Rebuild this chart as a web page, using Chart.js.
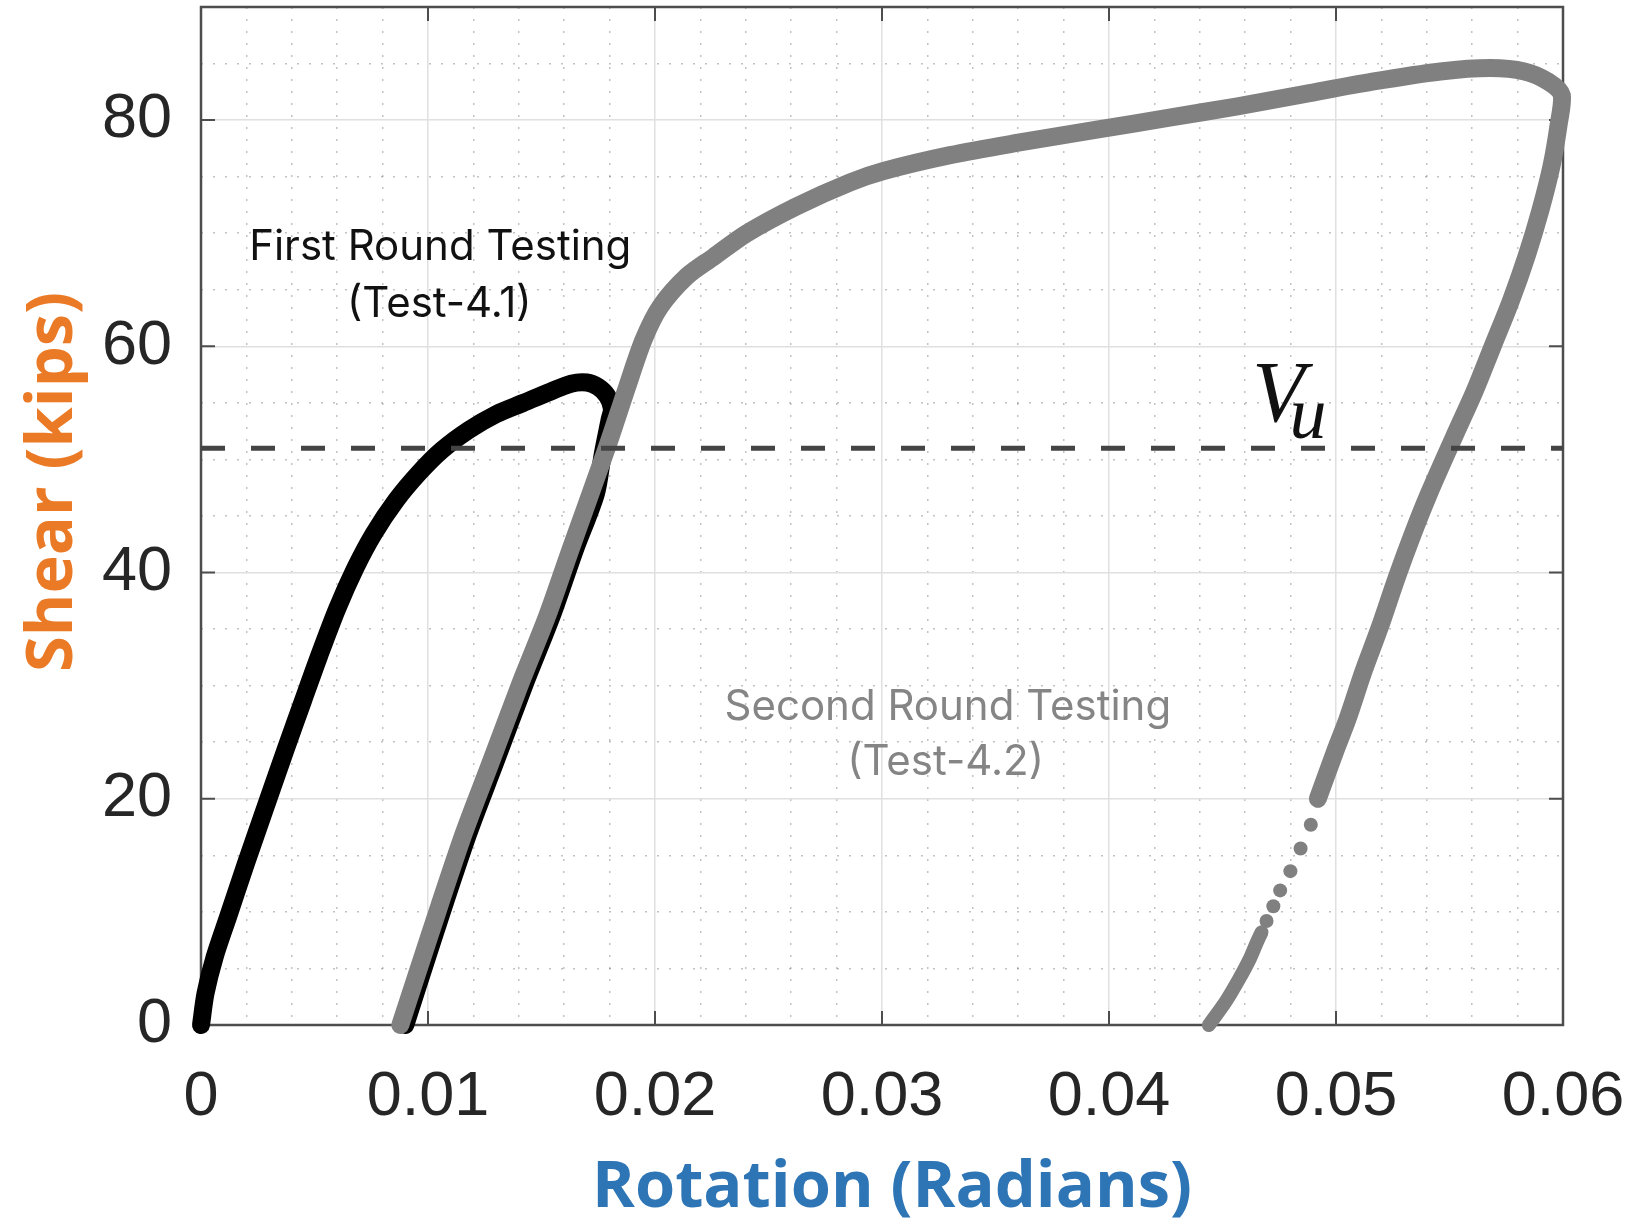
<!DOCTYPE html>
<html>
<head>
<meta charset="utf-8">
<title>Shear vs Rotation</title>
<script src="https://cdn.jsdelivr.net/npm/chart.js@4.4.1/dist/chart.umd.min.js"></script>
<style>
  html, body { margin: 0; padding: 0; background: #fff; }
  #wrap { width: 1632px; height: 1220px; }
</style>
</head>
<body>
<div id="wrap"><canvas id="shearChart" width="1632" height="1220"></canvas></div>
<script>
// ── Shear vs rotation, two test rounds ──

// axes
const xTickValues = [0, 0.01, 0.02, 0.03, 0.04, 0.05, 0.06];
const xTickLabels = ['0', '0.01', '0.02', '0.03', '0.04', '0.05', '0.06'];
const yTickValues = [0, 20, 40, 60, 80];
const yTickLabels = ['0', '20', '40', '60', '80'];

// V_u level (kips)
const vuShear = 51;

// First round (Test-4.1): loading then unloading
const firstRot = [0, 0.0002, 0.0006, 0.0012, 0.0020, 0.0029, 0.0037, 0.0045, 0.0052, 0.0060,
  0.0068, 0.0076, 0.0086, 0.0096, 0.0106, 0.0118, 0.0130, 0.0142, 0.0154, 0.0163,
  0.0170, 0.0175, 0.0179, 0.0181, 0.0180, 0.0177, 0.0174, 0.01647, 0.01544, 0.01427,
  0.01294, 0.01177, 0.0103, 0.0090];
const firstShear = [0, 2.8, 6.0, 9.6, 14.4, 19.6, 24.2, 28.7, 32.6, 36.8,
  40.4, 43.4, 46.4, 48.8, 50.8, 52.6, 54.0, 55.0, 56.0, 56.7,
  56.8, 56.4, 55.6, 54.5, 53.5, 50.5, 47.0, 42.0, 36.1, 30.2,
  23.1, 16.9, 8.1, 0];

// Second round (Test-4.2): reload, peak, unload down to ~20 kips
const secondRot = [0.00878, 0.0101, 0.01157, 0.01274, 0.01407, 0.01524, 0.01627, 0.01789, 0.01877, 0.0195,
  0.02023, 0.02141, 0.02258, 0.02405, 0.02626, 0.0286, 0.03007, 0.0330, 0.0360, 0.0396,
  0.0426, 0.0456, 0.0486, 0.0516, 0.0546, 0.0568, 0.0583, 0.05935, 0.05995, 0.0598,
  0.0595, 0.0590, 0.0584, 0.0577, 0.0569, 0.0561, 0.0552, 0.0541, 0.0534, 0.0527,
  0.0519, 0.0512, 0.0505, 0.0500, 0.0492];
const secondShear = [0, 8.1, 16.9, 23.1, 30.2, 36.1, 42.0, 51.1, 56.4, 60.6,
  63.5, 66.2, 67.9, 70.0, 72.4, 74.5, 75.5, 76.9, 78.0, 79.2,
  80.2, 81.2, 82.3, 83.4, 84.3, 84.6, 84.3, 83.4, 82.2, 79.5,
  76.0, 72.0, 68.0, 64.0, 60.0, 56.0, 52.0, 47.0, 43.5, 39.7,
  35.0, 31.2, 27.0, 24.4, 20.0];

// Second round, sparse samples below 20 kips
const sparseRot = [0.04889, 0.04844, 0.04799, 0.04754, 0.04724, 0.04694];
const sparseShear = [17.7, 15.6, 13.6, 11.9, 10.5, 9.2];

// Second round, dense tail near zero
const tailRot = [0.04672, 0.04649, 0.04619, 0.04574, 0.04515, 0.0444];
const tailShear = [8.2, 7.2, 5.8, 4.1, 2.1, 0];

const zip = (xs, ys) => xs.map((x, i) => ({ x, y: ys[i] }));
const near = (a, b) => Math.abs(a - b) < 1e-9;

// every minor step between min and max, flag the labelled ones
function buildTicks(min, max, step, majors) {
  const out = [];
  const n = Math.round((max - min) / step);
  for (let i = 0; i <= n; i++) {
    const v = +(min + i * step).toFixed(6);
    out.push({ value: v, main: majors.some(m => near(m, v)) });
  }
  return out;
}

function tickLabel(values, labels) {
  return v => {
    const i = values.findIndex(m => near(m, v));
    return i >= 0 ? labels[i] : '';
  };
}

const tickFont = { family: '"Liberation Sans", Arial, sans-serif', size: 63 };
const gridOpts = {
  color: c => (c.tick && c.tick.main) ? '#e0e0e0' : 'rgba(70,70,70,0.33)',
  lineWidth: 1.5,
  drawTicks: false
};
const borderOpts = {
  display: false,
  dash: c => (c.tick && !c.tick.main) ? [2, 10] : []
};

// box with inward ticks (MATLAB look)
const frame = {
  id: 'frame',
  beforeDatasetsDraw(chart) {
    const { ctx, chartArea: a, scales: { x, y } } = chart;
    ctx.save();
    ctx.strokeStyle = '#4d4d4d';
    ctx.lineWidth = 2.5;
    ctx.strokeRect(a.left, a.top, a.right - a.left, a.bottom - a.top);
    ctx.lineWidth = 2;
    ctx.beginPath();
    xTickValues.forEach(v => {
      const px = x.getPixelForValue(v);
      ctx.moveTo(px, a.bottom); ctx.lineTo(px, a.bottom - 14);
      ctx.moveTo(px, a.top); ctx.lineTo(px, a.top + 14);
    });
    yTickValues.forEach(v => {
      const py = y.getPixelForValue(v);
      ctx.moveTo(a.left, py); ctx.lineTo(a.left + 14, py);
      ctx.moveTo(a.right, py); ctx.lineTo(a.right - 14, py);
    });
    ctx.stroke();
    ctx.restore();
  }
};

// text notes + axis titles
const notes = {
  id: 'notes',
  afterDatasetsDraw(chart) {
    const { ctx, scales: { x, y } } = chart;
    const put = (text, rx, sy, font, color, align) => {
      ctx.font = font;
      ctx.fillStyle = color;
      ctx.textAlign = align || 'center';
      ctx.fillText(text, x.getPixelForValue(rx), y.getPixelForValue(sy));
    };
    const noteFont = '42px Inter, "Noto Sans", sans-serif';
    ctx.save();
    ctx.textBaseline = 'alphabetic';
    put('First Round Testing', 0.01054, 67.6, noteFont, '#111111');
    put('(Test-4.1)', 0.0105, 62.6, noteFont, '#111111');
    put('Second Round Testing', 0.0329, 27.0, noteFont, '#858585');
    put('(Test-4.2)', 0.0328, 22.1, noteFont, '#858585');
    put('V', 0.04631, 53.4, 'italic 86px "Liberation Serif", "Times New Roman", serif', '#111111', 'left');
    put('u', 0.04795, 51.9, 'italic 74px "Liberation Serif", "Times New Roman", serif', '#111111', 'left');

    // axis titles
    ctx.textAlign = 'center';
    ctx.font = 'bold 65px "Open Sans", "Noto Sans", sans-serif';
    ctx.fillStyle = '#2E75B6';
    ctx.fillText('Rotation (Radians)', 892, 1207);
    ctx.translate(72, 482);
    ctx.rotate(-Math.PI / 2);
    ctx.fillStyle = '#EB7A26';
    ctx.fillText('Shear (kips)', 0, 0);
    ctx.restore();
  }
};

const lineStyle = {
  showLine: true,
  pointRadius: 0,
  borderCapStyle: 'round',
  borderJoinStyle: 'round',
  tension: 0.3,
  clip: false
};

new Chart(document.getElementById('shearChart').getContext('2d'), {
  type: 'scatter',
  data: {
    datasets: [
      {
        label: 'V_u',
        data: [{ x: xTickValues[0], y: vuShear }, { x: xTickValues[xTickValues.length - 1], y: vuShear }],
        showLine: true, pointRadius: 0, borderColor: '#444444', borderWidth: 5,
        borderDash: [24, 26], order: 0
      },
      Object.assign({ label: 'Test-4.2', data: zip(secondRot, secondShear), borderColor: '#808080', borderWidth: 18, order: 1 }, lineStyle),
      Object.assign({ label: 'Test-4.2 tail', data: zip(tailRot, tailShear), borderColor: '#808080', borderWidth: 14, order: 1 }, lineStyle),
      {
        label: 'Test-4.2 samples',
        data: zip(sparseRot, sparseShear),
        showLine: false, pointRadius: 7, pointBorderWidth: 0,
        pointBackgroundColor: '#808080', clip: false, order: 1
      },
      Object.assign({ label: 'Test-4.1', data: zip(firstRot, firstShear), borderColor: '#000000', borderWidth: 18, order: 2 }, lineStyle)
    ]
  },
  options: {
    responsive: false,
    animation: false,
    devicePixelRatio: 1,
    layout: { padding: { top: 7, right: 69, left: 0, bottom: 0 } },
    plugins: { legend: { display: false }, tooltip: { enabled: false } },
    scales: {
      x: {
        type: 'linear', min: 0, max: 0.06,
        afterBuildTicks: axis => { axis.ticks = buildTicks(0, 0.06, 0.002, xTickValues); },
        afterFit: axis => { axis.height = 195; axis.paddingLeft = 0; axis.paddingRight = 0; },
        ticks: { callback: tickLabel(xTickValues, xTickLabels), autoSkip: false, maxRotation: 0, minRotation: 0, padding: 35, color: '#262626', font: tickFont },
        grid: gridOpts,
        border: borderOpts
      },
      y: {
        type: 'linear', min: 0, max: 90,
        afterBuildTicks: axis => { axis.ticks = buildTicks(0, 90, 5, yTickValues); },
        afterFit: axis => { axis.width = 201; axis.paddingTop = 0; axis.paddingBottom = 0; },
        ticks: { callback: tickLabel(yTickValues, yTickLabels), autoSkip: false, padding: 29, color: '#262626', font: tickFont },
        grid: gridOpts,
        border: borderOpts
      }
    }
  },
  plugins: [frame, notes]
});
</script>
</body>
</html>
